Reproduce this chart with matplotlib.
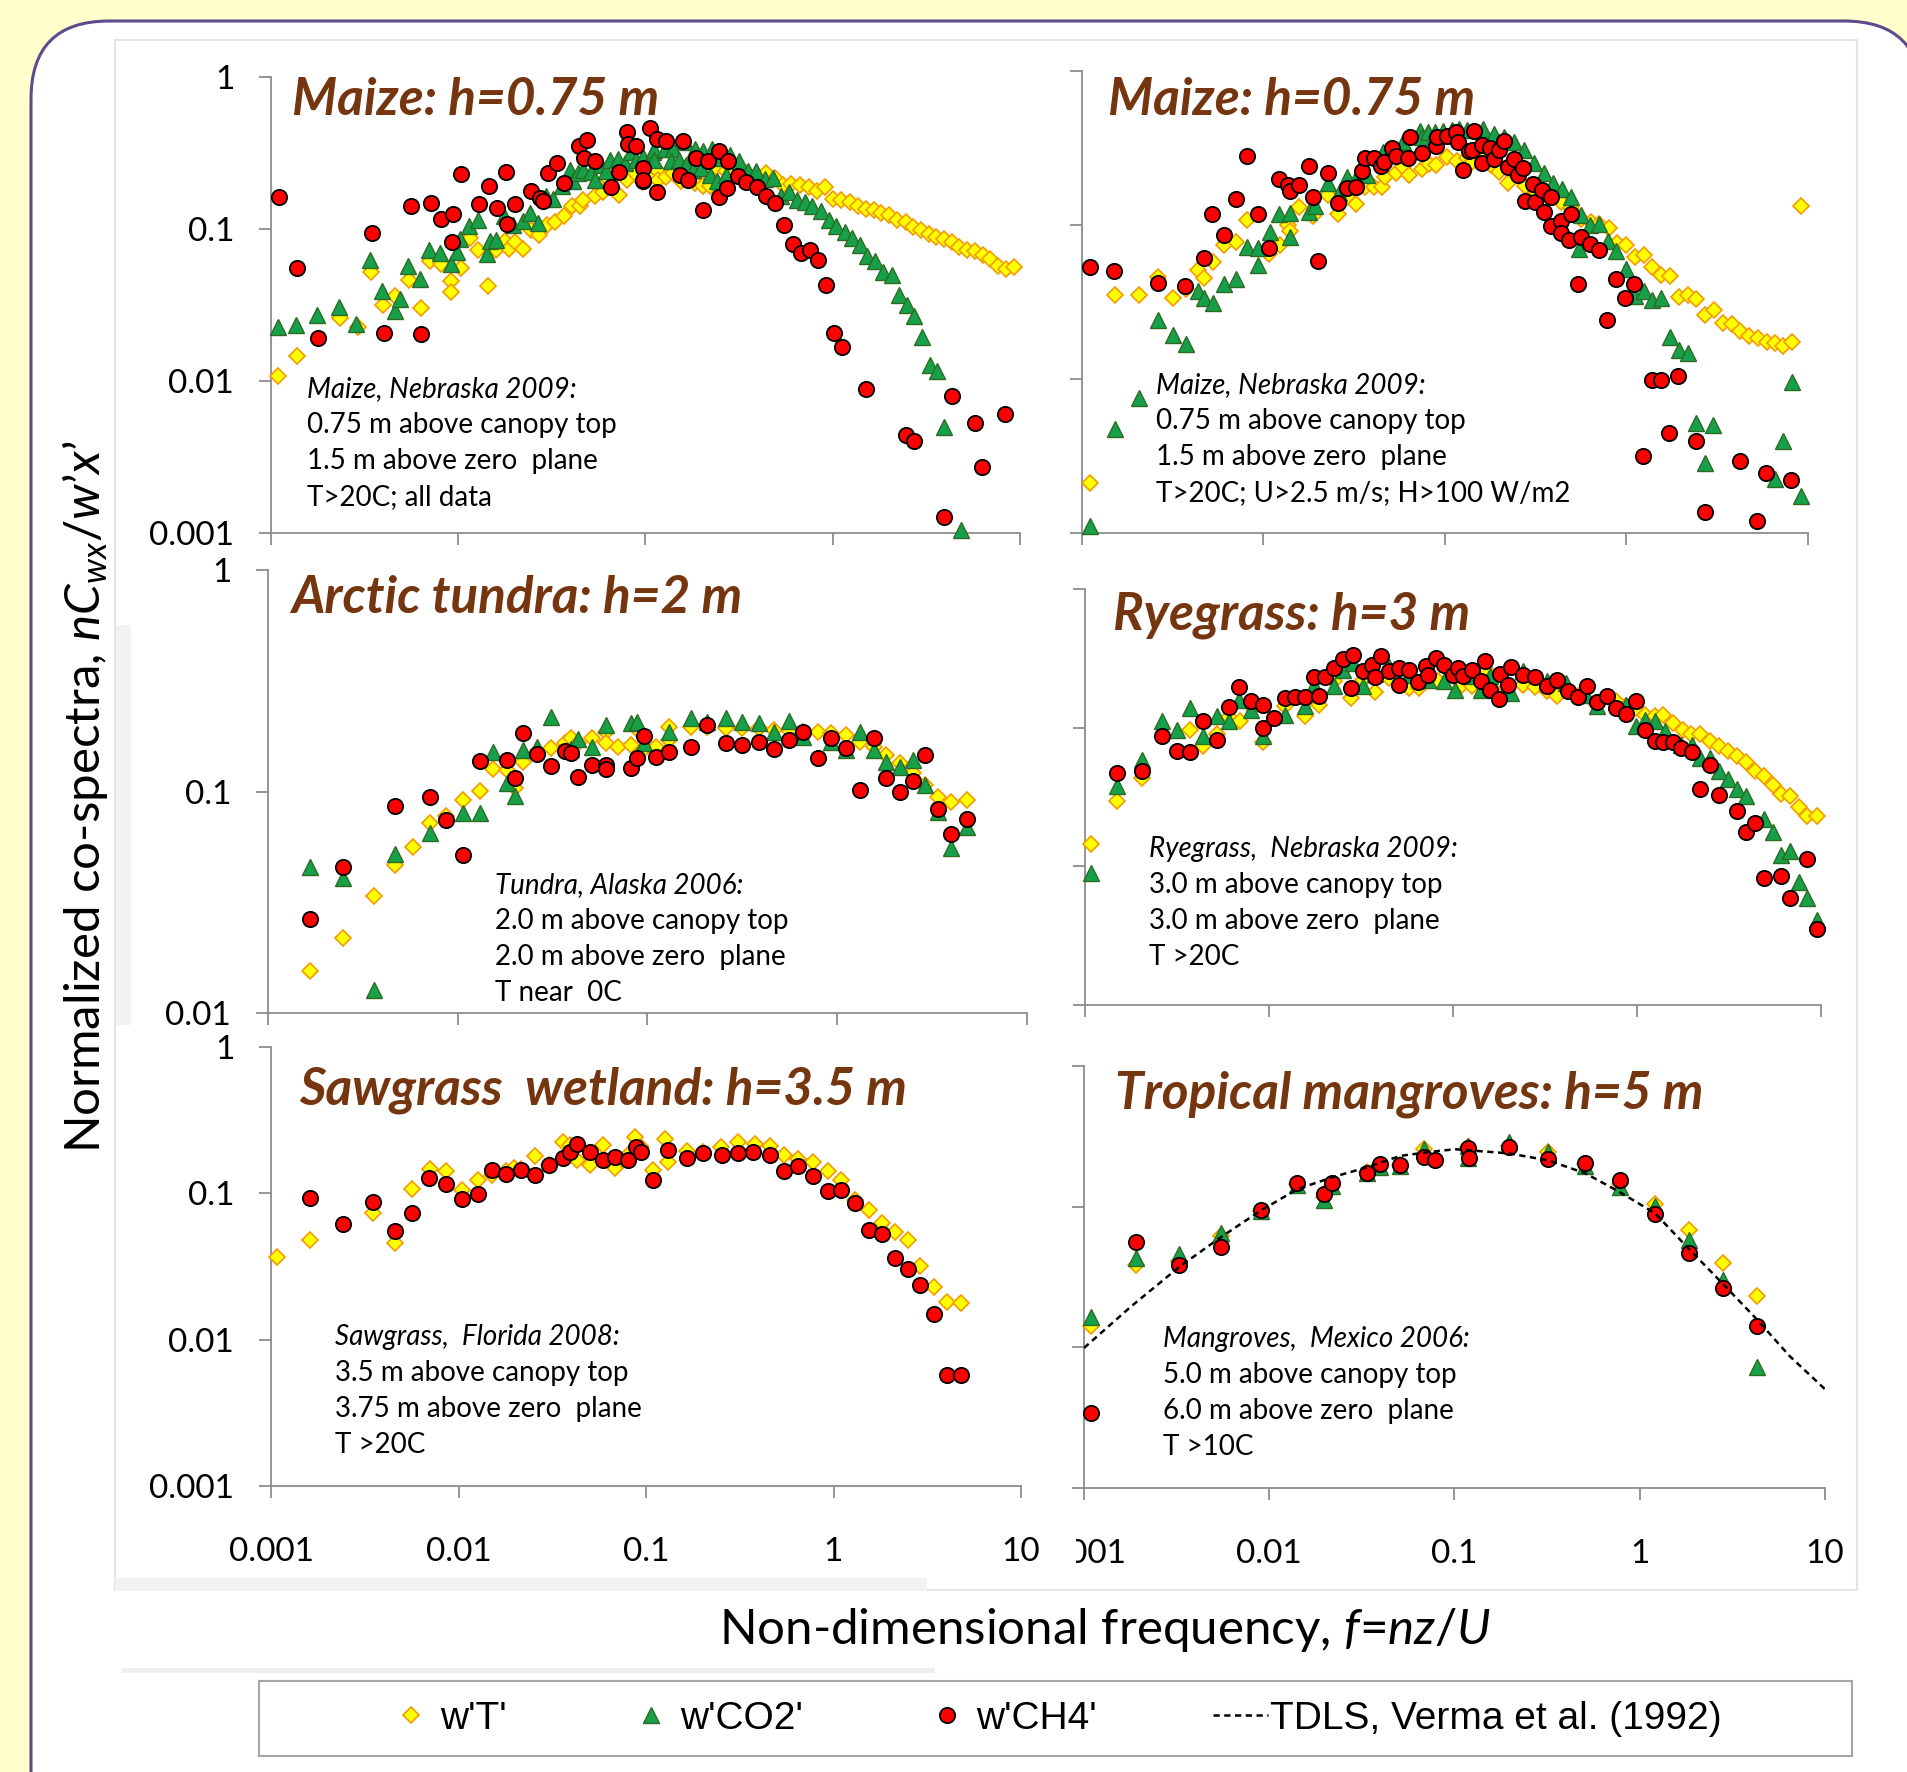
import matplotlib
matplotlib.use("Agg")
import matplotlib.pyplot as plt
from matplotlib import ticker
from matplotlib.lines import Line2D
from matplotlib.patches import FancyBboxPatch, Rectangle
from matplotlib.transforms import Bbox

W, H = 1908, 1772

plt.rcParams['font.family'] = ['Lato', 'DejaVu Sans']
plt.rcParams['mathtext.fontset'] = 'custom'
plt.rcParams['mathtext.rm'] = 'Lato'
plt.rcParams['mathtext.it'] = 'Lato:italic'
plt.rcParams['mathtext.bf'] = 'Lato:bold'

# ---------------- data: (f, normalized co-spectrum) ----------------
# Maize, all data
p1_t = [(0.00109,0.0108),(0.00137,0.0145),(0.00233,0.0259),(0.0029,0.0228),(0.00344,0.052),(0.00398,0.0317),
        (0.00459,0.0363),(0.00547,0.0463),(0.00632,0.0301),(0.00706,0.0612),(0.00808,0.059),(0.0092,0.0452),
        (0.0092,0.0384),(0.0103,0.0553),(0.0115,0.0872),(0.0128,0.0723),(0.0145,0.0419),(0.016,0.0723),
        (0.0177,0.083),(0.0187,0.0738),(0.020,0.0817),(0.0222,0.0738),(0.0246,0.099),(0.027,0.0918),
        (0.0298,0.1057),(0.0328,0.1112),(0.0368,0.1213),(0.0403,0.1425),(0.0447,0.141),(0.0465,0.156),
        (0.0537,0.164),(0.0594,0.1745),(0.064,0.2115),(0.0723,0.1683),(0.0793,0.2115),(0.0877,0.234),
        (0.0972,0.203),(0.105,0.222),(0.110,0.228),(0.1164,0.24),(0.1164,0.2094),(0.129,0.22),(0.14,0.232),
        (0.155,0.206),(0.183,0.201),(0.2027,0.191),(0.22,0.193),(0.2387,0.2564),(0.27,0.24),(0.299,0.234),
        (0.345,0.234),(0.391,0.228),(0.4385,0.232),(0.49,0.2168),(0.542,0.196),(0.601,0.199),(0.671,0.196),
        (0.746,0.189),(0.828,0.179),(0.913,0.189),(1.005,0.1577),(1.112,0.156),(1.233,0.15),(1.365,0.141),
        (1.50,0.1355),(1.654,0.1328),(1.818,0.1274),(2.0,0.1244),(2.207,0.1153),(2.447,0.1107),(2.69,0.103),
        (2.96,0.098),(3.26,0.0932),(3.58,0.0886),(3.92,0.0859),(4.31,0.0817),(4.74,0.076),(5.23,0.0731),
        (5.74,0.0713),(6.31,0.0677),(6.91,0.0634),(7.66,0.0568),(8.38,0.0545),(9.29,0.0561)]
p1_co2 = [(0.00109,0.0228),(0.00136,0.0234),(0.00175,0.0272),(0.00231,0.0306),(0.00284,0.0238),(0.00338,0.0621),
          (0.00393,0.0388),(0.00459,0.0287),(0.00489,0.0345),(0.0054,0.0568),(0.00624,0.0471),(0.0070,0.0731),
          (0.00798,0.0695),(0.0091,0.059),(0.0098,0.0702),(0.0102,0.0859),(0.01146,0.1042),(0.0128,0.114),
          (0.01416,0.0688),(0.01476,0.083),(0.016,0.0851),(0.0176,0.1225),(0.0197,0.107),(0.0222,0.1124),
          (0.0243,0.1274),(0.0267,0.1096),(0.0294,0.166),(0.0319,0.1577),(0.0356,0.191),(0.0394,0.246),
          (0.0411,0.206),(0.0437,0.234),(0.0461,0.246),(0.0509,0.2375),(0.0537,0.2093),(0.0582,0.2655),
          (0.0619,0.2425),(0.0645,0.2865),(0.0714,0.2895),(0.0776,0.272),(0.0832,0.32),(0.0888,0.2865),
          (0.0972,0.297),(0.110,0.32),(0.1117,0.33),(0.1117,0.284),(0.1264,0.337),(0.14,0.337),(0.137,0.279),
          (0.1507,0.2865),(0.1618,0.3727),(0.165,0.2655),(0.1828,0.337),(0.179,0.246),(0.1986,0.252),
          (0.204,0.325),(0.22,0.225),(0.2275,0.337),(0.2406,0.2083),(0.254,0.294),(0.268,0.225),(0.2838,0.305),
          (0.3155,0.279),(0.3527,0.24),(0.3908,0.24),(0.4325,0.2138),(0.4797,0.2168),(0.5313,0.164),
          (0.5834,0.1745),(0.644,0.156),(0.708,0.15),(0.778,0.1425),(0.863,0.1306),(0.953,0.1153),(1.047,0.1052),
          (1.159,0.095),(1.274,0.0872),(1.394,0.0788),(1.531,0.0667),(1.689,0.0612),(1.857,0.0524),(2.06,0.05),
          (2.255,0.0369),(2.478,0.0317),(2.724,0.0268),(2.98,0.0196),(3.30,0.0127),(3.61,0.0117),(3.94,0.005),
          (4.82,0.00104)]
p1_ch4 = [(0.00111,0.162),(0.00138,0.0553),(0.00179,0.0193),(0.00346,0.094),(0.00401,0.0206),(0.00557,0.1425),
          (0.00636,0.0203),(0.00714,0.148),(0.00811,0.116),(0.00933,0.1256),(0.01033,0.2317),(0.00929,0.0817),
          (0.01294,0.147),(0.01452,0.191),(0.01614,0.137),(0.01795,0.2365),(0.02005,0.147),(0.0183,0.108),
          (0.0246,0.179),(0.0273,0.16),(0.0282,0.152),(0.030,0.234),(0.0335,0.27),(0.0368,0.201),(0.0443,0.351),
          (0.049,0.384),(0.0469,0.291),(0.0537,0.279),(0.0653,0.188),(0.0723,0.2365),(0.0798,0.434),(0.0807,0.36),
          (0.0885,0.354),(0.0964,0.206),(0.106,0.463),(0.1145,0.392),(0.1145,0.1745),(0.129,0.378),(0.158,0.378),
          (0.0968,0.252),(0.0968,0.209),(0.152,0.225),(0.168,0.2115),(0.1866,0.294),(0.2027,0.1328),(0.2155,0.279),
          (0.2455,0.328),(0.2455,0.1618),(0.272,0.186),(0.2754,0.279),(0.312,0.222),(0.345,0.203),(0.394,0.189),
          (0.4385,0.166),(0.4897,0.148),(0.5495,0.1057),(0.614,0.080),(0.679,0.0695),(0.753,0.0731),(0.835,0.0628),
          (0.925,0.0428),(1.016,0.0208),(1.127,0.0168),(1.50,0.00885),(2.447,0.00438),(2.71,0.00402),(3.94,0.00127),
          (4.34,0.00796),(5.77,0.00526),(6.29,0.00272),(8.36,0.00606)]

# Maize, filtered
p2_t = [(0.0011,0.00212),(0.00152,0.0352),(0.00207,0.0352),(0.00262,0.0463),(0.00317,0.0335),(0.00375,0.0383),
        (0.00438,0.0511),(0.00468,0.0451),(0.00526,0.0578),(0.00607,0.0742),(0.00705,0.078),(0.0081,0.1077),
        (0.01074,0.0649),(0.01236,0.0742),(0.01373,0.1),(0.014,0.0919),(0.01577,0.1315),(0.01884,0.1144),
        (0.0228,0.1565),(0.0257,0.1172),(0.0288,0.1526),(0.0324,0.1368),(0.0363,0.177),(0.0408,0.177),
        (0.0448,0.1755),(0.0467,0.2037),(0.0537,0.2163),(0.059,0.2366),(0.0637,0.211),(0.0744,0.2296),
        (0.082,0.248),(0.0892,0.245),(0.102,0.2773),(0.116,0.261),(0.1327,0.274),(0.1395,0.2535),(0.1616,0.2636),
        (0.1795,0.245),(0.1995,0.2216),(0.2235,0.188),(0.2493,0.211),(0.2768,0.179),(0.317,0.1644),(0.352,0.1603),
        (0.391,0.1565),(0.4345,0.1416),(0.493,0.1282),(0.56,0.1088),(0.635,0.1051),(0.705,0.1014),(0.80,0.095),
        (0.889,0.076),(0.988,0.0742),(1.107,0.0624),(1.245,0.064),(1.383,0.0537),(1.55,0.0474),(1.73,0.0467),
        (1.94,0.0343),(2.17,0.0352),(2.42,0.033),(2.71,0.0261),(3.04,0.0281),(3.39,0.0231),(3.80,0.0228),
        (4.22,0.0204),(4.73,0.0191),(5.27,0.0184),(5.91,0.0175),(6.56,0.0171),(7.29,0.0164),(8.17,0.0175),
        (9.19,0.1334)]
p2_co2 = [(0.0011,0.00111),(0.00152,0.0047),(0.00205,0.00753),(0.00262,0.0242),(0.00317,0.0194),(0.00374,0.0169),
          (0.00435,0.037),(0.00473,0.0335),(0.00526,0.031),(0.00607,0.0415),(0.00705,0.0447),(0.0081,0.0724),
          (0.00938,0.0706),(0.00938,0.055),(0.0108,0.0896),(0.01225,0.1178),(0.014,0.119),(0.014,0.084),
          (0.0179,0.122),(0.0192,0.1328),(0.0228,0.188),(0.0259,0.1603),(0.0288,0.2057),(0.0324,0.2005),
          (0.0371,0.211),(0.0458,0.2986),(0.0508,0.3186),(0.059,0.3467),(0.0728,0.408),(0.0744,0.37),
          (0.081,0.4025),(0.088,0.4025),(0.098,0.408),(0.1088,0.413),(0.12,0.4228),(0.1316,0.413),
          (0.1616,0.4228),(0.1857,0.389),(0.2124,0.37),(0.241,0.3467),(0.2735,0.306),(0.31,0.251),
          (0.349,0.2163),(0.396,0.186),(0.4436,0.1703),(0.493,0.1526),(0.564,0.116),(0.63,0.1),(0.705,0.101),
          (0.79,0.0791),(0.548,0.0699),(0.878,0.0679),(0.988,0.0516),(1.12,0.0347),(1.245,0.037),(1.383,0.0324),
          (1.55,0.0335),(1.73,0.0187),(1.94,0.0155),(2.17,0.0147),(2.42,0.00519),(3.01,0.00499),(2.71,0.00283),
          (6.56,0.00225),(7.29,0.00398),(8.17,0.0095),(9.19,0.00175)]
p2_ch4 = [(0.0011,0.0532),(0.00151,0.0499),(0.00261,0.0423),(0.00371,0.0404),(0.00468,0.0614),(0.0052,0.1172),
          (0.00603,0.0861),(0.00702,0.1473),(0.0081,0.281),(0.0093,0.1178),(0.01074,0.0706),(0.0122,0.1977),
          (0.01373,0.1817),(0.01402,0.166),(0.0157,0.1817),(0.01778,0.241),(0.01884,0.1526),(0.0199,0.0585),
          (0.0228,0.2163),(0.0257,0.1395),(0.0288,0.173),(0.0324,0.177),(0.0349,0.224),(0.0363,0.274),
          (0.0408,0.274),(0.0442,0.241),(0.0463,0.257),(0.0508,0.317),(0.0537,0.28),(0.0628,0.273),(0.0641,0.37),
          (0.0744,0.294),(0.0892,0.327),(0.0899,0.37),(0.102,0.3775),(0.115,0.4025),(0.1184,0.3467),(0.126,0.227),
          (0.136,0.303),(0.144,0.408),(0.1406,0.306),(0.16,0.33),(0.16,0.251),(0.178,0.314),(0.1857,0.27),
          (0.1995,0.309),(0.211,0.35),(0.2235,0.2366),(0.2388,0.268),(0.251,0.211),(0.27,0.235),(0.276,0.1438),
          (0.306,0.1845),(0.313,0.1416),(0.344,0.1686),(0.349,0.122),(0.386,0.1526),(0.386,0.099),(0.4345,0.1067),
          (0.4345,0.0892),(0.483,0.08),(0.493,0.1172),(0.56,0.084),(0.63,0.0753),(0.705,0.0689),(0.541,0.0413),
          (0.878,0.0445),(1.097,0.0413),(0.975,0.0338),(0.784,0.0242),(1.383,0.0099),(1.55,0.0099),(1.92,0.0105),
          (1.234,0.00318),(1.72,0.00447),(2.41,0.00398),(2.71,0.00137),(4.22,0.00293),(5.86,0.00244),
          (8.10,0.0022),(5.25,0.00119)]

# Arctic tundra
p3_t = [(0.00166,0.0155),(0.00249,0.0218),(0.0036,0.0337),(0.00466,0.0465),(0.00581,0.0562),(0.00713,0.0722),
        (0.0087,0.0774),(0.0107,0.0914),(0.01303,0.1007),(0.01542,0.1257),(0.01828,0.1248),(0.020,0.1032),
        (0.022,0.1361),(0.0262,0.151),(0.031,0.1564),(0.0367,0.166),(0.0395,0.1735),(0.0432,0.166),
        (0.0508,0.1735),(0.0602,0.186),(0.0602,0.166),(0.0697,0.159),(0.082,0.1618),(0.0883,0.1906),
        (0.0958,0.155),(0.1109,0.159),(0.13,0.1706),(0.13,0.196),(0.1686,0.1946),(0.207,0.196),(0.258,0.1926),
        (0.315,0.1926),(0.387,0.1926),(0.462,0.1893),(0.555,0.1893),(0.657,0.186),(0.79,0.186),(0.929,0.1828),
        (1.117,0.18),(1.32,0.1676),(1.555,0.159),(1.815,0.146),(2.13,0.1339),(2.51,0.1206),(2.90,0.1069),
        (3.39,0.0946),(3.99,0.0898),(4.80,0.092)]
p3_co2 = [(0.00166,0.0454),(0.00249,0.0409),(0.0036,0.01265),(0.00466,0.0521),(0.00713,0.065),(0.0107,0.0796),
          (0.01303,0.0796),(0.01542,0.151),(0.01828,0.1087),(0.020,0.0953),(0.022,0.1538),(0.0262,0.159),
          (0.031,0.2175),(0.0395,0.155),(0.0432,0.1718),(0.0508,0.159),(0.0602,0.1995),(0.082,0.2028),
          (0.0883,0.2065),(0.0958,0.1648),(0.13,0.186),(0.1686,0.2137),(0.207,0.2065),(0.258,0.2137),
          (0.315,0.2065),(0.387,0.2028),(0.462,0.186),(0.555,0.2085),(0.657,0.1754),(0.929,0.1676),
          (1.117,0.1538),(1.32,0.186),(1.555,0.1538),(1.815,0.1361),(2.13,0.1292),(2.51,0.1386),(2.90,0.1069),
          (3.39,0.081),(3.99,0.0553),(4.80,0.0692)]
p3_ch4 = [(0.00166,0.0267),(0.00249,0.0457),(0.00466,0.0859),(0.00713,0.0946),(0.0087,0.0747),(0.0107,0.0519),
          (0.01303,0.137),(0.01828,0.1386),(0.020,0.1145),(0.022,0.184),(0.0262,0.147),(0.031,0.13),
          (0.0367,0.152),(0.0395,0.1485),(0.0432,0.1165),(0.0508,0.1324),(0.0602,0.1324),(0.0602,0.1257),
          (0.082,0.1283),(0.0883,0.142),(0.0958,0.178),(0.1109,0.1434),(0.13,0.151),(0.1686,0.159),
          (0.207,0.1995),(0.258,0.1648),(0.315,0.162),(0.387,0.1676),(0.462,0.155),(0.555,0.1706),
          (0.657,0.186),(0.79,0.141),(0.929,0.1735),(1.117,0.1564),(1.32,0.1014),(1.555,0.1735),(1.815,0.1145),
          (2.13,0.0996),(2.51,0.1117),(2.90,0.146),(3.39,0.0838),(3.99,0.064),(4.80,0.0755)]

# Ryegrass
p4_t = [(0.00108,0.01445),(0.00149,0.0297),(0.00205,0.0433),(0.00371,0.0966),(0.00437,0.0732),(0.00524,0.0904),
        (0.00603,0.1192),(0.00697,0.111),(0.00816,0.1385),(0.00933,0.0782),(0.01226,0.1423),(0.01563,0.1219),
        (0.01875,0.1462),(0.0225,0.2157),(0.0278,0.1634),(0.0324,0.2218),(0.0377,0.1796),(0.0451,0.228),
        (0.0576,0.193),(0.065,0.193),(0.0828,0.2157),(0.1122,0.204),(0.1267,0.1984),(0.152,0.259),
        (0.1937,0.193),(0.2393,0.204),(0.2786,0.196),(0.3243,0.1826),(0.3664,0.17),(0.4752,0.168),
        (0.607,0.1462),(0.773,0.1546),(0.873,0.1439),(0.985,0.1385),(1.112,0.124),(1.255,0.1205),(1.392,0.124),
        (1.57,0.1079),(1.775,0.0955),(1.968,0.0904),(2.19,0.0904),(2.48,0.0804),(2.80,0.074),(3.12,0.0674),
        (3.50,0.062),(3.91,0.057),(4.36,0.0491),(4.89,0.045),(5.46,0.0383),(6.08,0.0332),(6.82,0.0323),
        (7.61,0.0267),(8.44,0.0231),(9.53,0.0229)]
p4_co2 = [(0.00108,0.00892),(0.00149,0.0377),(0.00205,0.0587),(0.00261,0.111),(0.00317,0.0966),(0.00371,0.1385),
          (0.00437,0.0865),(0.00524,0.1205),(0.00603,0.111),(0.00689,0.1573),(0.00802,0.1346),(0.00933,0.0865),
          (0.01226,0.124),(0.01563,0.1423),(0.01763,0.204),(0.0225,0.1984),(0.0254,0.2618),(0.0286,0.2924),
          (0.0324,0.1984),(0.0377,0.245),(0.0451,0.2735),(0.0576,0.241),(0.0734,0.2218),(0.0891,0.2157),
          (0.1026,0.1877),(0.1267,0.2344),(0.1413,0.1877),(0.1595,0.2344),(0.206,0.1775),(0.2393,0.2546),
          (0.3243,0.2157),(0.413,0.21),(0.527,0.1726),(0.607,0.1439),(0.873,0.1462),(0.985,0.102),(1.112,0.1127),
          (1.255,0.111),(1.419,0.094),(1.74,0.0753),(1.98,0.0753),(2.19,0.0603),(2.48,0.0603),(2.80,0.0483),
          (3.12,0.0426),(3.50,0.036),(3.91,0.0323),(4.89,0.022),(5.46,0.0178),(6.08,0.0121),(6.82,0.0128),
          (7.61,0.00777),(8.44,0.00595),(9.53,0.00411)]
p4_ch4 = [(0.00149,0.047),(0.00205,0.0483),(0.00261,0.0865),(0.00317,0.0674),(0.00371,0.0667),(0.00437,0.111),
          (0.00524,0.0818),(0.00603,0.14),(0.00689,0.196),(0.00802,0.1546),(0.00933,0.1462),(0.00933,0.0993),
          (0.01067,0.1172),(0.01226,0.1634),(0.01384,0.1663),(0.01563,0.1663),(0.01763,0.2317),(0.01875,0.17),
          (0.0201,0.2317),(0.0225,0.269),(0.0254,0.3127),(0.0286,0.3357),(0.0278,0.193),(0.0324,0.2546),
          (0.0365,0.2844),(0.0377,0.2317),(0.0407,0.3267),(0.0451,0.2546),(0.051,0.269),(0.051,0.204),
          (0.0576,0.2618),(0.0643,0.212),(0.0712,0.2797),(0.0734,0.241),(0.0813,0.3177),(0.0891,0.2844),
          (0.0994,0.241),(0.107,0.269),(0.1135,0.2344),(0.1267,0.2618),(0.1413,0.2157),(0.1492,0.3006),
          (0.1595,0.1877),(0.177,0.1607),(0.179,0.245),(0.1996,0.204),(0.206,0.2735),(0.2393,0.241),
          (0.2786,0.2317),(0.3243,0.2006),(0.3664,0.2218),(0.4209,0.1826),(0.4752,0.1663),(0.537,0.1984),
          (0.607,0.152),(0.684,0.17),(0.773,0.1385),(0.873,0.126),(0.985,0.1546),(1.112,0.0966),(1.255,0.0804),
          (1.392,0.0782),(1.57,0.0787),(1.74,0.0712),(1.98,0.0667),(2.19,0.036),(2.48,0.054),(2.80,0.0328),
          (3.50,0.0251),(3.91,0.0176),(4.36,0.0205),(4.89,0.0083),(6.08,0.00854),(6.82,0.00595),(8.44,0.01126),
          (9.53,0.00352)]

# Sawgrass wetland (no CO2 series)
p5_t = [(0.00107,0.0367),(0.00161,0.0477),(0.0035,0.0729),(0.00457,0.0458),(0.00568,0.1064),(0.00705,0.1458),
        (0.00861,0.1423),(0.01045,0.1058),(0.0127,0.1224),(0.01518,0.1343),(0.01787,0.1423),(0.01968,0.1483),
        (0.02153,0.1458),(0.02557,0.1786),(0.03057,0.1572),(0.0363,0.2228),(0.0391,0.2139),(0.0428,0.1695),
        (0.05,0.1572),(0.0589,0.2139),(0.0684,0.1483),(0.0805,0.182),(0.0875,0.243),(0.0935,0.2066),
        (0.1094,0.144),(0.1258,0.236),(0.1318,0.1637),(0.1648,0.1959),(0.2015,0.1905),(0.2518,0.2066),
        (0.3102,0.2228),(0.3794,0.2164),(0.4575,0.2104),(0.543,0.184),(0.649,0.1715),(0.782,0.1647),
        (0.929,0.1423),(1.094,0.1224),(1.298,0.0904),(1.541,0.0768),(1.815,0.0627),(2.138,0.0545),
        (2.483,0.0477),(2.904,0.0321),(3.42,0.0228),(4.03,0.01795),(4.78,0.01774)]
p5_ch4 = [(0.00161,0.0931),(0.00243,0.0619),(0.0035,0.0879),(0.00457,0.0551),(0.00568,0.0738),(0.00694,0.1282),
          (0.00861,0.1154),(0.01045,0.092),(0.0127,0.0986),(0.01518,0.144),(0.01787,0.1358),(0.02153,0.144),
          (0.02557,0.1335),(0.03057,0.1553),(0.0363,0.1745),(0.0391,0.1927),(0.0428,0.2188),(0.05,0.1905),
          (0.0589,0.1695),(0.0684,0.1766),(0.0805,0.1686),(0.0888,0.2066),(0.0935,0.1927),(0.1094,0.1231),
          (0.1318,0.1983),(0.1648,0.1735),(0.2015,0.1893),(0.2557,0.182),(0.3102,0.1893),(0.3741,0.1905),
          (0.4575,0.182),(0.543,0.1416),(0.649,0.1527),(0.782,0.1305),(0.929,0.1045),(1.094,0.1058),
          (1.298,0.0853),(1.541,0.0558),(1.815,0.053),(2.138,0.0361),(2.483,0.0303),(2.904,0.0237),
          (3.42,0.01507),(4.03,0.0057),(4.78,0.0057)]

# Tropical mangroves
p6_t = [(0.00109,0.0141),(0.0019,0.0384),(0.00327,0.0408),(0.00546,0.0623),(0.00903,0.0924),(0.01416,0.146),
        (0.01963,0.118),(0.02175,0.1413),(0.0339,0.177),(0.0394,0.197),(0.0509,0.197),(0.0683,0.259),
        (0.1177,0.266),(0.1964,0.2717),(0.3207,0.2437),(0.5094,0.2009),(0.7818,0.1456),(1.21,0.1043),
        (1.834,0.0683),(2.80,0.0396),(4.27,0.0232)]
p6_co2 = [(0.00109,0.01644),(0.0019,0.0434),(0.00327,0.046),(0.00546,0.065),(0.00903,0.0924),(0.01416,0.143),
          (0.01963,0.1122),(0.02175,0.1413),(0.0339,0.1746),(0.0394,0.1912),(0.0509,0.1935),(0.0683,0.2558),
          (0.1177,0.2717),(0.1177,0.2225),(0.1964,0.287),(0.3207,0.2437),(0.5094,0.1935),(0.7818,0.1371),
          (1.21,0.1012),(1.834,0.0576),(2.80,0.0301),(4.27,0.00726)]
p6_ch4 = [(0.00109,0.0034),(0.0019,0.0559),(0.00327,0.0388),(0.00546,0.0514),(0.00903,0.0953),(0.01416,0.1474),
          (0.01963,0.1228),(0.02175,0.1474),(0.0339,0.1746),(0.0394,0.2009),(0.0509,0.1972),(0.0683,0.2254),
          (0.0782,0.2133),(0.1177,0.2621),(0.1194,0.2225),(0.1964,0.2636),(0.3207,0.2185),(0.5094,0.2032),
          (0.7818,0.1547),(1.21,0.0886),(1.834,0.0469),(2.80,0.0264),(4.27,0.0141)]
tdls = [(0.001,0.0099),(0.00181,0.0197),(0.00327,0.0373),(0.00546,0.0605),(0.00903,0.0941),(0.01416,0.133),
        (0.02175,0.1614),(0.0339,0.191),(0.0509,0.2295),(0.0767,0.2466),(0.1007,0.256),(0.1964,0.2393),
        (0.3207,0.2133),(0.5094,0.1725),(0.7818,0.1267),(1.21,0.0897),(1.834,0.0504),(2.80,0.0284),
        (4.27,0.0159),(6.43,0.00869),(10.0,0.00504)]

titles = ["Maize: h=0.75 m", "Maize: h=0.75 m", "Arctic tundra: h=2 m",
          "Ryegrass: h=3 m", "Sawgrass  wetland: h=3.5 m", "Tropical mangroves: h=5 m"]
notes = [["Maize, Nebraska 2009:", "0.75 m above canopy top", "1.5 m above zero  plane", "T>20C; all data"],
         ["Maize, Nebraska 2009:", "0.75 m above canopy top", "1.5 m above zero  plane",
          "T>20C; U>2.5 m/s; H>100 W/m2"],
         ["Tundra, Alaska 2006:", "2.0 m above canopy top", "2.0 m above zero  plane", "T near  0C"],
         ["Ryegrass,  Nebraska 2009:", "3.0 m above canopy top", "3.0 m above zero  plane", "T >20C"],
         ["Sawgrass,  Florida 2008:", "3.5 m above canopy top", "3.75 m above zero  plane", "T >20C"],
         ["Mangroves,  Mexico 2006:", "5.0 m above canopy top", "6.0 m above zero  plane", "T >10C"]]
x_ticks = [0.001, 0.01, 0.1, 1, 10]
legend_labels = ["w'T'", "w'CO2'", "w'CH4'", "TDLS, Verma et al. (1992)"]

# ---------------- layout (pixel boxes of the original) ----------------
def fx(x):
    return x / W

def fy(y):
    return 1 - y / H

panel_px = [(271, 77, 1020, 533), (1082, 71, 1808, 533), (268, 570, 1027, 1013),
            (1085, 589, 1821, 1005), (271, 1047, 1021, 1486), (1084, 1066, 1825, 1488)]
y_low = [1e-3, 1e-3, 1e-2, 1e-3, 1e-3, 1e-3]
title_px = [(292, 115), (1108, 115), (291, 613), (1113, 630), (299, 1104), (1115, 1108)]
note_px = [(307, 397), (1156, 393), (495, 893), (1149, 857), (335, 1345), (1163, 1347)]

BROWN = '#74350f'
AXC = '#8c8c8c'
T_STYLE = dict(ls='none', marker='D', ms=8, mfc='#ffff00', mec='#f39a00', mew=1.2)
C_STYLE = dict(ls='none', marker='^', ms=11, mfc='#16a04a', mec='#2d6a22', mew=1.0)
M_STYLE = dict(ls='none', marker='o', ms=11, mfc='#ff0000', mec='black', mew=1.3)

fig = plt.figure(figsize=(W / 100, H / 100), dpi=100, facecolor='#ffffcc')

# rounded slide frame, drawn under the axes
frame = FancyBboxPatch((0.31, -1.0), 18.91, 18.51, boxstyle='round,pad=0,rounding_size=0.78',
                       transform=fig.dpi_scale_trans, fc='white', ec='#5f4b8b', lw=2.2, zorder=-3)
fig.patches.append(frame)

def rect_px(x0, y0, x1, y1, **kw):
    r = Rectangle((fx(x0), fy(y1)), (x1 - x0) / W, (y1 - y0) / H, transform=fig.transFigure, **kw)
    fig.patches.append(r)

rect_px(115, 40, 1857, 1590, fc='none', ec='#e4e4e4', lw=1.5, zorder=-2)
rect_px(116, 625, 131, 1025, fc='#f2f2f2', ec='none', zorder=-2)
rect_px(115, 1578, 927, 1591, fc='#f2f2f2', ec='none', zorder=-2)
rect_px(122, 1668, 935, 1673, fc='#efefef', ec='none', zorder=-2)

fmt = ticker.FuncFormatter(lambda v, p: f"{v:g}")
series = [(p1_t, p1_co2, p1_ch4), (p2_t, p2_co2, p2_ch4), (p3_t, p3_co2, p3_ch4),
          (p4_t, p4_co2, p4_ch4), (p5_t, None, p5_ch4), (p6_t, p6_co2, p6_ch4)]

axes = []
for i, (l, t, r, b) in enumerate(panel_px):
    ax = fig.add_axes([fx(l), fy(b), (r - l) / W, (b - t) / H])
    ax.patch.set_alpha(0)
    ax.set_xscale('log')
    ax.set_yscale('log')
    ax.set_xlim(1e-3, 10)
    ax.set_ylim(y_low[i], 1)
    for s in ['top', 'right']:
        ax.spines[s].set_visible(False)
    for s in ['left', 'bottom']:
        ax.spines[s].set_color(AXC)
        ax.spines[s].set_linewidth(1.3)
    yt = [v for v in [0.001, 0.01, 0.1, 1] if v >= y_low[i]]
    ax.xaxis.set_major_locator(ticker.FixedLocator(x_ticks))
    ax.yaxis.set_major_locator(ticker.FixedLocator(yt))
    ax.xaxis.set_minor_locator(ticker.NullLocator())
    ax.yaxis.set_minor_locator(ticker.NullLocator())
    ax.xaxis.set_major_formatter(fmt)
    ax.yaxis.set_major_formatter(fmt)
    ax.tick_params(direction='out', length=8.5, width=1.3, color=AXC, labelsize=24, labelcolor='black')
    ax.tick_params(axis='y', pad=18, labelleft=(i % 2 == 0))
    ax.tick_params(axis='x', pad=28, labelbottom=(i >= 4))

    st, sc, sm = series[i]
    ax.plot(*zip(*st), clip_on=False, zorder=3, **T_STYLE)
    if sc is not None:
        ax.plot(*zip(*sc), clip_on=False, zorder=4, **C_STYLE)
    ax.plot(*zip(*sm), clip_on=False, zorder=5, **M_STYLE)
    if i == 5:
        ax.plot(*zip(*tdls), color='black', lw=1.8, ls=(0, (2.5, 1.8)), zorder=6)
    axes.append(ax)

    tx, ty = title_px[i]
    fig.text(fx(tx), fy(ty), titles[i], fontsize=37, fontweight='bold', style='italic',
             color=BROWN, va='baseline', ha='left')
    nx, ny = note_px[i]
    for k, line in enumerate(notes[i]):
        fig.text(fx(nx), fy(ny + 36 * k), line, fontsize=20, style='italic' if k == 0 else 'normal',
                 va='baseline', ha='left', color='black')

# the first x label of the right bottom panel is cut by the picture edge in the original
fig.canvas.draw()
lab = axes[5].xaxis.get_major_ticks()[0].label1
lab.set_clip_box(Bbox.from_extents(1076, 0, W, H))
lab.set_clip_on(True)

fig.text(fx(85), fy(797), "Normalized co-spectra, $nC_{wx}/w$’$x$’", rotation=90,
         ha='center', va='center', fontsize=35.5)
fig.text(fx(1105), fy(1630), "Non-dimensional frequency, $f$=$nz/U$", ha='center', va='center', fontsize=35.5)

# legend
rect_px(259, 1681, 1852, 1756, fc='white', ec='#a6a6a6', lw=1.5, zorder=-1)
handles = [Line2D([], [], **T_STYLE), Line2D([], [], **C_STYLE), Line2D([], [], **M_STYLE),
           Line2D([], [], color='black', lw=1.8, ls=(0, (2.5, 1.8)))]
fig.legend(handles, legend_labels, loc='center left', bbox_to_anchor=(fx(384), fy(1719)), ncol=4,
           frameon=False, borderpad=0, borderaxespad=0, handlelength=1.4, handletextpad=0.05,
           columnspacing=3.0, numpoints=1, prop={'family': 'Liberation Sans', 'size': 28})

fig.savefig('out.png', dpi=100, facecolor=fig.get_facecolor())
